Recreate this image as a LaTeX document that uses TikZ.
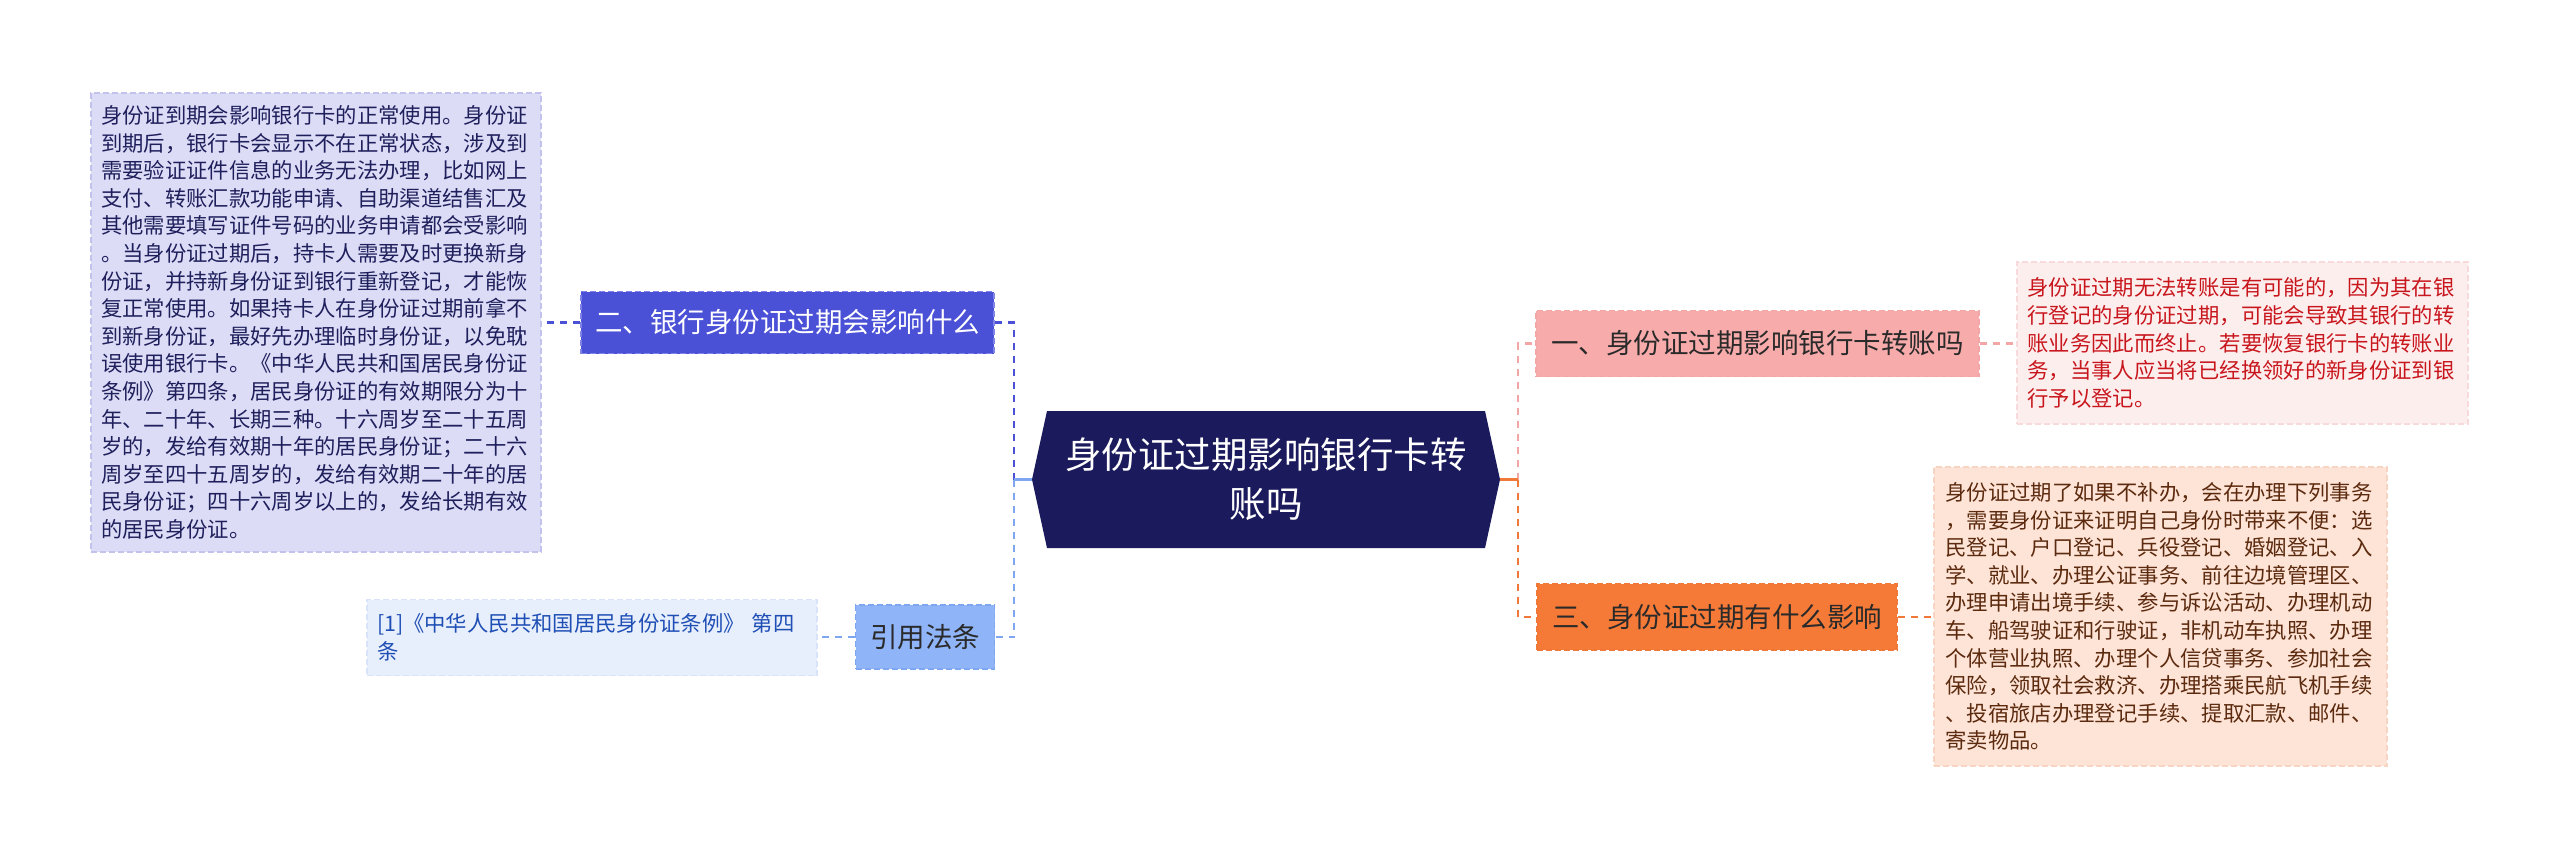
\documentclass[tikz,border=0pt]{standalone}
\usepackage{fontspec}
\newfontfamily\cjk{Noto Sans CJK SC}
\definecolor{lavfill}{HTML}{DCDCF7}
\definecolor{lavline}{HTML}{C2C2EC}
\definecolor{lavtext}{HTML}{1F1F5C}
\definecolor{violet}{HTML}{4B51D6}
\definecolor{violetline}{HTML}{7F84E6}
\definecolor{lblue}{HTML}{8FB4F8}
\definecolor{lblueline}{HTML}{7FA6F0}
\definecolor{reffill}{HTML}{E8EFFC}
\definecolor{refline}{HTML}{D8E2F8}
\definecolor{reftext}{HTML}{1F4FB5}
\definecolor{navy}{HTML}{1B1A5C}
\definecolor{pinknode}{HTML}{F8ABAB}
\definecolor{pinkline}{HTML}{F2A6A6}
\definecolor{pinkfill}{HTML}{FDEEEE}
\definecolor{pinkbord}{HTML}{F8DADA}
\definecolor{pinktext}{HTML}{C8161D}
\definecolor{orangenode}{HTML}{F57A38}
\definecolor{orangeline}{HTML}{F07838}
\definecolor{peachfill}{HTML}{FDE4D7}
\definecolor{peachbord}{HTML}{F8D4C2}
\definecolor{peachtext}{HTML}{5C2A0E}
\definecolor{darktext}{HTML}{2A2A2A}
\tikzset{
  conn/.style={line width=2.3pt, dash pattern=on 7pt off 6pt},
  stub/.style={line width=2.1pt},
  boxed/.style={draw, line width=1.2pt, dash pattern=on 6pt off 3pt, inner sep=0pt, rectangle},
  topic/.style={boxed, font=\cjk\fontsize{27.5pt}{33pt}\selectfont, align=center},
  para/.style={boxed, font=\cjk\fontsize{21.35pt}{27.6pt}\selectfont, align=left, text width=430pt},
}
\begin{document}
\begin{tikzpicture}[x=1pt,y=-1pt]
\useasboundingbox[fill=white] (0,0) rectangle (2560,857);

% central node (hexagon)
\fill[navy] (1032,479.5) -- (1047,411) -- (1485,411) -- (1500,479.5) -- (1485,548) -- (1047,548) -- cycle;
\node[inner sep=0pt, minimum width=468pt, minimum height=137pt, align=center, text=white,
      font=\cjk\fontsize{36.5pt}{49pt}\selectfont] (root) at (1266,479.5)
      {身份证过期影响银行卡转\\账吗};

% left branch
\node[topic, fill=violet, draw=violetline, text=white, minimum width=413pt, minimum height=62pt] (n2) at (787.5,322.5)
  {二、银行身份证过期会影响什么};
\node[para, fill=lavfill, draw=lavline, text=lavtext, minimum width=450pt, minimum height=459pt] (t2) at (316,322.5)
  {身份证到期会影响银行卡的正常使用。身份证\\
   到期后，银行卡会显示不在正常状态，涉及到\\
   需要验证证件信息的业务无法办理，比如网上\\
   支付、转账汇款功能申请、自助渠道结售汇及\\
   其他需要填写证件号码的业务申请都会受影响\\
   。当身份证过期后，持卡人需要及时更换新身\\
   份证，并持新身份证到银行重新登记，才能恢\\
   复正常使用。如果持卡人在身份证过期前拿不\\
   到新身份证，最好先办理临时身份证，以免耽\\
   误使用银行卡。《中华人民共和国居民身份证\\
   条例》第四条，居民身份证的有效期限分为十\\
   年、二十年、长期三种。十六周岁至二十五周\\
   岁的，发给有效期十年的居民身份证；二十六\\
   周岁至四十五周岁的，发给有效期二十年的居\\
   民身份证；四十六周岁以上的，发给长期有效\\
   的居民身份证。};

\node[topic, fill=lblue, draw=lblueline, text=darktext, minimum width=139pt, minimum height=64pt] (law) at (925,637)
  {引用法条};
\node[para, fill=reffill, draw=refline, text=reftext, minimum width=450pt, minimum height=76pt] (ref) at (592,637.5)
  {[1]《中华人民共和国居民身份证条例》 第四\\条};

% right branch
\node[topic, fill=pinknode, draw=pinkline, text=darktext, minimum width=443pt, minimum height=66pt] (n1) at (1757.5,343.5)
  {一、身份证过期影响银行卡转账吗};
\node[para, fill=pinkfill, draw=pinkbord, text=pinktext, minimum width=451pt, minimum height=162pt] (t1) at (2242.5,343)
  {身份证过期无法转账是有可能的，因为其在银\\
   行登记的身份证过期，可能会导致其银行的转\\
   账业务因此而终止。若要恢复银行卡的转账业\\
   务，当事人应当将已经换领好的新身份证到银\\
   行予以登记。};

\node[topic, fill=orangenode, draw=orangeline, text=darktext, minimum width=360pt, minimum height=66pt] (n3) at (1717,617)
  {三、身份证过期有什么影响};
\node[para, fill=peachfill, draw=peachbord, text=peachtext, minimum width=453pt, minimum height=299pt] (t3) at (2160.5,616.5)
  {身份证过期了如果不补办，会在办理下列事务\\
   ，需要身份证来证明自己身份时带来不便：选\\
   民登记、户口登记、兵役登记、婚姻登记、入\\
   学、就业、办理公证事务、前往边境管理区、\\
   办理申请出境手续、参与诉讼活动、办理机动\\
   车、船驾驶证和行驶证，非机动车执照、办理\\
   个体营业执照、办理个人信贷事务、参加社会\\
   保险，领取社会救济、办理搭乘民航飞机手续\\
   、投宿旅店办理登记手续、提取汇款、邮件、\\
   寄卖物品。};

% junctions
\coordinate (jl) at (1014,479.5);
\coordinate (jr) at (1518,479.5);

% connectors left
\draw[conn, violet] (jl) |- (n2.east);
\draw[conn, lblueline] (jl) |- (law.east);
\draw[stub, lblueline] (root.west) -- (jl);
\draw[conn, violet] (n2.west) -- (t2.east |- n2.west);
\draw[conn, lblueline] (law.west) -- (ref.east |- law.west);

% connectors right
\draw[conn, pinkline] (jr) |- (n1.west);
\draw[conn, orangeline] (jr) |- (n3.west);
\draw[stub, orangeline] (root.east) -- (jr);
\draw[conn, pinkline] (n1.east) -- (t1.west |- n1.east);
\draw[conn, orangeline] (n3.east) -- (t3.west |- n3.east);
\end{tikzpicture}
\end{document}
